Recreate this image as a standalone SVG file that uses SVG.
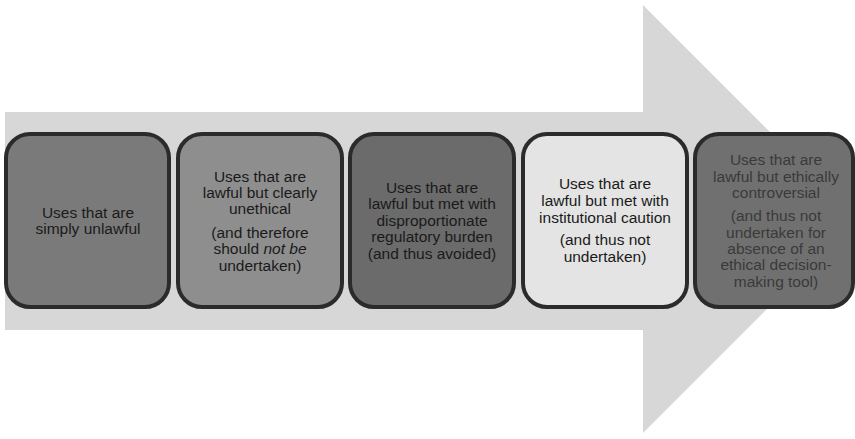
<svg xmlns="http://www.w3.org/2000/svg" width="855" height="439" viewBox="0 0 855 439">
<style>
.box{stroke:#2b2b2b;stroke-width:4}
text{font-family:"Liberation Sans",Arial,sans-serif;font-size:15.5px;fill:#1a1a1a;text-anchor:middle}
.t5{fill:#3a3a3a}
</style>
<rect width="855" height="439" fill="#ffffff"/>
<g id="arrow">
<polygon points="5,112 643,112 643,5 857,219 643,433 643,330 5,330" fill="#d7d7d7"/>
</g>
<g id="connectors"></g>
<g id="n1">
<rect class="box" x="6" y="134" width="163" height="173" rx="24" fill="#7a7a7a"/>
<text x="88" y="218">Uses that are</text>
<text x="88" y="234">simply unlawful</text>
</g>
<g id="n2">
<rect class="box" x="178" y="134" width="164" height="173" rx="24" fill="#8e8e8e"/>
<text x="260" y="182">Uses that are</text>
<text x="260" y="198">lawful but clearly</text>
<text x="260" y="214">unethical</text>
<text x="260" y="238">(and therefore</text>
<text x="260" y="254">should <tspan font-style="italic">not be</tspan></text>
<text x="260" y="271">undertaken)</text>
</g>
<g id="n3">
<rect class="box" x="350" y="134" width="164" height="173" rx="24" fill="#6b6b6b"/>
<text x="432" y="193">Uses that are</text>
<text x="432" y="209">lawful but met with</text>
<text x="432" y="226">disproportionate</text>
<text x="432" y="242">regulatory burden</text>
<text x="432" y="259">(and thus avoided)</text>
</g>
<g id="n4">
<rect class="box" x="523" y="134" width="164" height="173" rx="24" fill="#e4e4e4"/>
<text x="605" y="189">Uses that are</text>
<text x="605" y="206">lawful but met with</text>
<text x="605" y="223">institutional caution</text>
<text x="605" y="245">(and thus not</text>
<text x="605" y="262">undertaken)</text>
</g>
<g id="n5">
<rect class="box" x="695" y="134" width="158" height="173" rx="24" fill="#707070"/>
<text class="t5" x="776" y="165">Uses that are</text>
<text class="t5" x="776" y="182">lawful but ethically</text>
<text class="t5" x="776" y="198">controversial</text>
<text class="t5" x="776" y="221">(and thus not</text>
<text class="t5" x="776" y="238">undertaken for</text>
<text class="t5" x="776" y="254">absence of an</text>
<text class="t5" x="776" y="270">ethical decision-</text>
<text class="t5" x="776" y="287">making tool)</text>
</g>
</svg>
